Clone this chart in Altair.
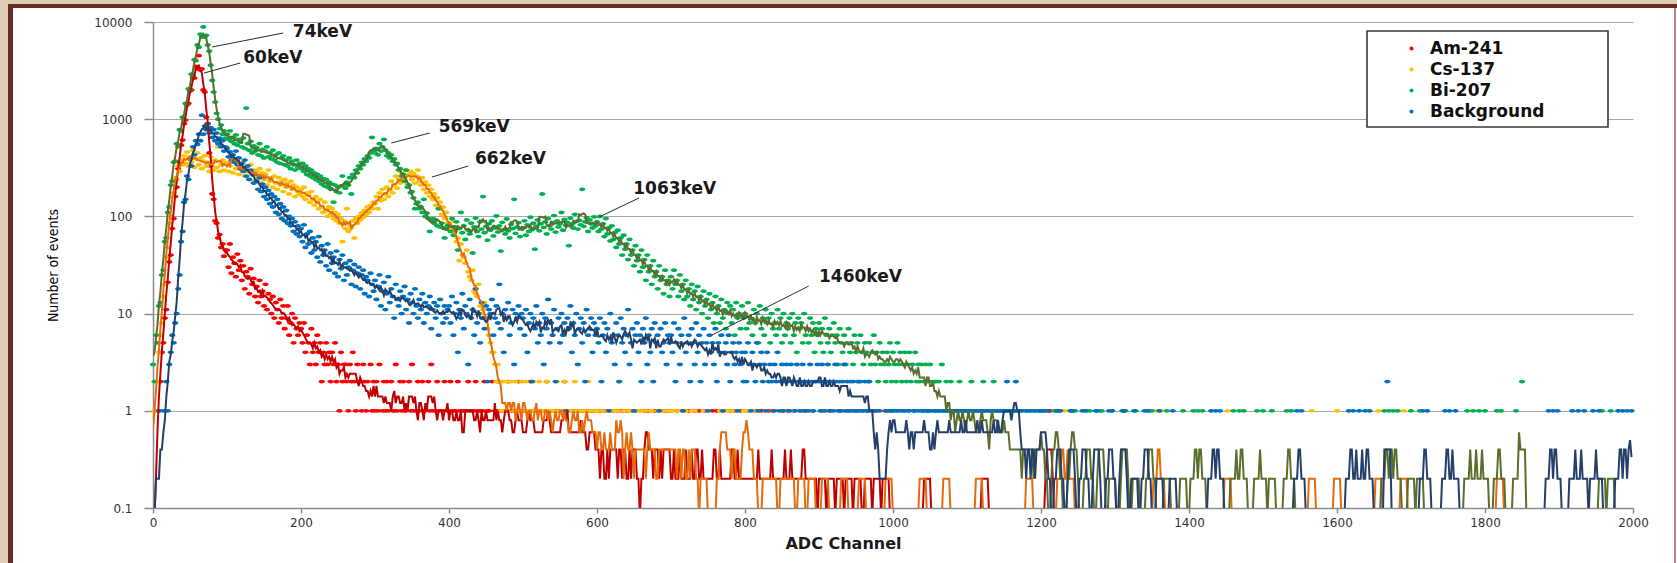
import altair as alt
import pandas as pd

# ---------------------------------------------------------------------------
# Spectra: counts per ADC channel, tabulated every STEP channels.
# Each block holds 50 entries = 100 channels (block 0 -> ch 0..98, ...).
# ---------------------------------------------------------------------------
STEP = 2
BLOCK = 50
N_CH = 2000

SERIES = ["Am-241", "Cs-137", "Bi-207", "Background"]
DOT_COLORS = ["#ff0000", "#ffc000", "#00b050", "#0070c0"]
LINE_COLORS = ["#c00000", "#e46c0a", "#5b6e2c", "#24406a"]

am_blocks = [
    [0, 0, 0, 0, 1, 2, 4, 5, 9, 11, 21, 34, 40, 75, 95, 160, 200, 310, 360, 540, 610, 900, 980, 1400, 1450,
     1950, 2000, 2700, 2650, 3500, 3300, 4500, 3200, 3300, 2000, 1900, 1050, 900, 450, 330, 170, 150, 90, 85, 60, 65, 48, 52, 39, 45],
    [45, 30, 52, 26, 38, 33, 24, 41, 28, 35, 22, 31, 18, 27, 24, 16, 29, 20, 23, 15, 19, 13, 22, 15, 17,
     12, 20, 11, 16, 14, 10, 15, 9, 13, 11, 8, 14, 9, 12, 7, 9, 12, 6, 8, 10, 5, 9, 7, 6, 8],
    [7, 5, 8, 4, 6, 5, 3, 7, 4, 5, 3, 6, 4, 5, 2, 4, 3, 5, 3, 4, 2, 4, 3, 5, 2,
     3, 1, 4, 2, 3, 3, 2, 1, 3, 2, 4, 2, 1, 3, 2, 2, 1, 3, 2, 1, 2, 0, 3, 1, 2],
    [1, 2, 1, 3, 0, 1, 2, 1, 2, 1, 0, 2, 1, 1, 3, 1, 0, 2, 1, 2, 1, 1, 0, 2, 1,
     3, 1, 0, 1, 2, 1, 0, 2, 1, 1, 0, 2, 1, 3, 1, 0, 1, 2, 1, 0, 1, 1, 2, 0, 1],
    [1, 2, 0, 1, 1, 0, 2, 1, 0, 1, 1, 0, 1, 2, 1, 1, 0, 1, 2, 0, 1, 1, 0, 1, 2,
     0, 1, 1, 0, 2, 0, 1, 1, 2, 0, 1, 0, 1, 1, 1, 2, 0, 1, 0, 1, 1, 0, 2, 1, 0],
    [1, 0, 1, 1, 0, 2, 1, 0, 1, 0, 1, 1, 0, 1, 0, 1, 2, 0, 1, 1, 0, 1, 0, 1, 1,
     0, 1, 0, 2, 1, 1, 0, 1, 0, 1, 1, 0, 1, 0, 1, 1, 1, 0, 0, 1, 0, 1, 1, 0, 1],
    [0, 0, 1, 0, 0, 1, 0, 0, 0, 1, 0, 1, 0, 0, 1, 0, 0, 1, 0, 0, 1, 0, 0, 0, 1,
     0, 1, 0, 0, 0, 0, 0, 1, 0, 1, 1, 0, 0, 0, 1, 0, 1, 0, 0, 0, 1, 0, 1, 0, 0],
    [1, 0, 0, 0, 1, 0, 0, 0, 1, 0, 0, 0, 1, 0, 0, 0, 1, 0, 0, 1, 0, 0, 0, 1, 0,
     0, 0, 0, 1, 0, 0, 1, 0, 0, 0, 1, 0, 0, 0, 0, 1, 0, 0, 1, 0, 0, 0, 1, 0, 0],
    [0, 0, 1, 0, 0, 0, 0, 1, 0, 0, 0, 1, 0, 0, 0, 0, 1, 0, 0, 0, 1, 0, 0, 0, 0,
     1, 0, 0, 0, 1, 0, 0, 0, 1, 0, 0, 0, 0, 1, 0, 0, 1, 0, 0, 0, 0, 1, 0, 0, 0],
    [0, 0, 1, 0, 0, 0, 0, 0, 1, 0, 0, 0, 0, 0, 1, 0, 0, 0, 0, 0, 1, 0, 0, 0, 0,
     0, 1, 0, 0, 0, 0, 0, 0, 1, 0, 0, 0, 0, 0, 1, 0, 0, 0, 0, 0, 1, 0, 0, 0, 0],
]
am_tail = [1046, 1124, 1210, 1212]

cs_blocks = [
    [0, 1, 1, 2, 4, 6, 8, 15, 20, 38, 48, 85, 100, 160, 175, 250, 240, 330, 290, 380, 340, 420, 350, 460, 330,
     410, 360, 480, 320, 390, 450, 340, 400, 310, 370, 420, 330, 360, 290, 410, 350, 300, 380, 320, 520, 290, 340, 380, 300, 350],
    [360, 290, 330, 400, 280, 650, 310, 350, 270, 330, 300, 360, 260, 320, 290, 240, 340, 270, 300, 230, 290, 250, 310, 220, 280,
     240, 270, 210, 300, 230, 250, 200, 260, 220, 190, 250, 210, 230, 180, 240, 200, 220, 170, 230, 190, 210, 160, 200, 180, 170],
    [190, 160, 200, 150, 175, 165, 140, 180, 150, 130, 160, 140, 120, 150, 125, 110, 140, 115, 100, 125, 105, 120, 95, 110, 90,
     105, 85, 95, 55, 90, 75, 120, 70, 82, 76, 90, 60, 95, 85, 100, 92, 108, 98, 115, 105, 125, 110, 130, 120, 140],
    [135, 160, 120, 175, 145, 190, 150, 170, 200, 160, 185, 230, 175, 210, 260, 195, 240, 220, 280, 230, 250, 300, 215, 265, 290,
     240, 275, 220, 260, 300, 230, 210, 250, 190, 225, 175, 210, 160, 190, 150, 170, 130, 155, 120, 140, 105, 125, 95, 110, 85],
    [85, 75, 78, 90, 70, 55, 60, 35, 52, 40, 38, 33, 45, 27, 24, 22, 28, 17, 16, 15, 20, 12, 10, 11, 13,
     9, 7, 6, 5, 4, 4, 3, 2, 3, 2, 1, 2, 1, 0, 2, 1, 1, 2, 0, 1, 2, 1, 0, 1, 2],
    [1, 0, 2, 1, 1, 0, 1, 2, 0, 1, 1, 2, 0, 1, 1, 0, 2, 1, 1, 0, 1, 1, 0, 2, 1,
     0, 1, 1, 2, 0, 1, 0, 1, 1, 0, 2, 1, 0, 1, 1, 0, 1, 1, 0, 2, 1, 0, 1, 0, 1],
    [1, 0, 0, 1, 1, 0, 0, 1, 0, 1, 0, 1, 0, 0, 1, 2, 0, 0, 1, 0, 0, 1, 1, 0, 0,
     1, 0, 0, 1, 0, 1, 0, 0, 1, 0, 0, 1, 1, 0, 0, 0, 1, 0, 0, 1, 0, 1, 0, 0, 1],
    [0, 1, 0, 0, 1, 0, 0, 1, 0, 0, 1, 0, 0, 0, 1, 0, 1, 0, 0, 0, 0, 0, 1, 0, 0,
     0, 0, 0, 0, 0, 0, 0, 0, 1, 0, 1, 1, 0, 1, 0, 0, 1, 0, 0, 1, 0, 0, 0, 0, 1],
    [1, 1, 0, 1, 0, 0, 1, 0, 0, 0, 0, 0, 0, 0, 1, 0, 0, 0, 0, 1, 0, 0, 0, 0, 0,
     0, 1, 0, 0, 0, 0, 1, 0, 0, 0, 0, 0, 0, 1, 0, 0, 0, 0, 0, 0, 1, 0, 0, 0, 0],
    [0, 0, 0, 0, 1, 0, 0, 0, 0, 0, 0, 0, 0, 0, 0, 0, 0, 1, 0, 0, 0, 0, 0, 0, 0,
     0, 0, 0, 0, 1, 0, 0, 0, 0, 0, 0, 0, 0, 0, 0, 0, 0, 0, 0, 0, 0, 0, 1, 0, 0],
]
cs_tail = [1040, 1072, 1116, 1184, 1226, 1232, 1240, 1356, 1362, 1452, 1566, 1600, 1656, 1690, 1820]

bi_blocks = [
    [3, 2, 6, 5, 12, 13, 25, 28, 55, 60, 110, 125, 210, 230, 360, 370, 560, 520, 780, 760, 1050, 1000, 1450, 1400, 2050,
     2000, 2900, 2800, 4100, 4000, 5800, 5500, 7500, 7000, 8900, 7000, 7300, 5800, 5000, 3600, 2500, 1900, 1500, 1150, 1000, 800, 870, 700, 760, 640],
    [700, 620, 760, 590, 650, 560, 690, 540, 620, 580, 520, 640, 500, 1300, 560, 480, 590, 450, 530, 470, 510, 430, 560, 420, 490,
     400, 470, 520, 410, 450, 390, 480, 380, 430, 360, 450, 350, 400, 420, 340, 380, 330, 400, 310, 370, 340, 300, 380, 320, 350],
    [310, 350, 290, 330, 270, 310, 260, 300, 250, 280, 240, 270, 230, 260, 215, 245, 205, 240, 200, 225, 190, 215, 140, 210, 180,
     200, 175, 205, 260, 210, 195, 225, 210, 250, 170, 270, 250, 300, 280, 330, 310, 360, 340, 390, 370, 420, 400, 450, 650, 470],
    [450, 500, 430, 560, 470, 520, 620, 480, 420, 450, 400, 430, 370, 390, 340, 350, 300, 310, 260, 270, 230, 300, 200, 210, 175,
     180, 155, 120, 135, 140, 120, 125, 110, 150, 100, 108, 95, 70, 90, 95, 85, 92, 80, 120, 78, 85, 76, 60, 74, 80],
    [82, 70, 95, 64, 78, 88, 45, 75, 110, 68, 80, 58, 92, 72, 66, 85, 42, 78, 96, 70, 62, 88, 74, 160, 68,
     79, 57, 84, 72, 90, 63, 76, 101, 69, 80, 44, 87, 73, 66, 94, 71, 60, 83, 75, 150, 67, 78, 86, 62, 74],
    [76, 90, 64, 82, 70, 98, 73, 85, 46, 79, 92, 71, 84, 170, 77, 88, 66, 95, 80, 74, 86, 102, 69, 90, 78,
     84, 110, 72, 93, 81, 87, 50, 96, 83, 76, 105, 89, 74, 91, 82, 190, 79, 88, 97, 70, 92, 84, 76, 99, 80],
    [88, 70, 100, 74, 84, 62, 95, 66, 76, 56, 80, 58, 68, 48, 72, 52, 60, 40, 64, 46, 52, 36, 58, 40, 45,
     31, 50, 35, 40, 27, 45, 30, 36, 22, 40, 27, 31, 20, 35, 24, 27, 18, 31, 22, 24, 16, 28, 20, 22, 15],
    [24, 18, 28, 20, 22, 15, 25, 17, 20, 14, 22, 15, 18, 12, 20, 14, 17, 11, 19, 13, 15, 10, 17, 12, 14,
     9, 16, 11, 13, 8, 15, 10, 12, 8, 14, 9, 11, 7, 13, 10, 12, 8, 11, 6, 13, 9, 10, 7, 12, 9],
    [10, 7, 13, 8, 9, 6, 11, 8, 10, 5, 12, 7, 9, 6, 11, 8, 9, 5, 10, 7, 8, 6, 11, 7, 9,
     5, 10, 6, 8, 7, 9, 5, 10, 6, 8, 4, 9, 7, 8, 5, 10, 6, 7, 5, 9, 6, 8, 4, 7, 6],
    [8, 5, 7, 4, 9, 6, 5, 7, 4, 6, 8, 5, 6, 3, 7, 5, 4, 6, 3, 5, 7, 4, 5, 3, 6,
     4, 5, 2, 6, 4, 3, 5, 4, 2, 5, 3, 4, 6, 3, 4, 2, 5, 3, 4, 3, 2, 4, 3, 5, 2],
    [4, 3, 2, 5, 3, 4, 2, 3, 4, 2, 3, 4, 2, 3, 1, 4, 2, 3, 2, 3, 1, 2, 3, 2, 1,
     3, 2, 1, 2, 2, 1, 2, 0, 3, 1, 1, 2, 0, 1, 2, 1, 0, 1, 1, 0, 2, 1, 0, 1, 1],
    [1, 0, 1, 2, 0, 1, 1, 0, 1, 0, 1, 2, 1, 0, 0, 1, 1, 0, 2, 1, 0, 1, 0, 1, 1,
     0, 1, 1, 0, 1, 0, 0, 1, 0, 1, 0, 0, 1, 0, 0, 1, 0, 1, 0, 0, 1, 0, 0, 1, 0],
    [1, 0, 1, 0, 0, 0, 0, 0, 0, 1, 1, 0, 1, 0, 0, 0, 0, 0, 0, 0, 1, 0, 1, 1, 0,
     0, 0, 0, 0, 0, 0, 1, 0, 1, 0, 0, 0, 0, 0, 0, 1, 1, 0, 0, 0, 0, 0, 0, 1, 0],
    [0, 0, 0, 0, 0, 0, 1, 1, 0, 0, 0, 0, 0, 0, 1, 0, 0, 0, 0, 0, 0, 0, 0, 1, 0,
     1, 0, 0, 0, 0, 0, 0, 0, 0, 0, 1, 0, 0, 0, 0, 0, 0, 0, 0, 0, 0, 1, 0, 0, 0],
]
bi_tail = [1406, 1412, 1418, 1460, 1468, 1474, 1492, 1500, 1512, 1532, 1538, 1664, 1670, 1676, 1682,
           1700, 1712, 1776, 1784, 1792, 1800, 1816, 1822, 1842, 1850, 1850, 1958, 1970]

bg_blocks = [
    [0, 0, 0, 0, 1, 0, 0, 1, 0, 2, 1, 3, 4, 6, 5, 8, 10, 18, 25, 55, 70, 140, 150, 260, 240,
     390, 330, 520, 430, 600, 550, 700, 600, 1100, 700, 850, 780, 900, 720, 820, 650, 780, 600, 720, 560, 640, 520, 600, 470, 520],
    [500, 410, 460, 380, 430, 360, 470, 340, 400, 310, 350, 290, 380, 260, 330, 240, 300, 280, 220, 270, 230, 190, 250, 180, 215,
     160, 200, 150, 185, 135, 170, 125, 160, 110, 150, 105, 135, 95, 125, 90, 115, 85, 100, 80, 95, 70, 88, 66, 80, 62],
    [75, 55, 82, 48, 66, 52, 70, 42, 60, 45, 55, 38, 62, 34, 50, 40, 45, 31, 52, 28, 42, 33, 38, 26, 44,
     24, 36, 29, 40, 22, 33, 25, 30, 35, 20, 28, 32, 19, 26, 30, 18, 25, 28, 16, 24, 22, 15, 26, 20, 17],
    [22, 14, 19, 25, 12, 17, 21, 11, 16, 24, 13, 18, 15, 9, 20, 14, 12, 17, 10, 15, 19, 11, 14, 8, 16,
     13, 10, 18, 12, 9, 14, 11, 16, 8, 13, 10, 12, 15, 7, 11, 13, 9, 12, 6, 14, 10, 8, 12, 9, 11],
    [12, 8, 15, 6, 10, 13, 4, 11, 9, 16, 7, 12, 10, 3, 14, 9, 11, 6, 18, 8, 10, 5, 13, 9, 7,
     12, 2, 11, 10, 14, 6, 9, 12, 8, 20, 7, 10, 4, 11, 9, 13, 6, 8, 11, 3, 10, 9, 12, 7, 10],
    [9, 6, 11, 4, 8, 10, 2, 9, 7, 12, 5, 8, 6, 10, 3, 9, 7, 14, 5, 8, 6, 11, 2, 7, 9,
     5, 10, 6, 8, 1, 9, 7, 12, 4, 8, 6, 10, 3, 7, 9, 5, 8, 2, 11, 6, 7, 9, 4, 8, 6],
    [7, 5, 9, 2, 6, 8, 4, 7, 1, 10, 5, 6, 3, 8, 6, 2, 9, 5, 7, 4, 6, 11, 3, 5, 7,
     1, 6, 8, 4, 6, 2, 7, 5, 9, 3, 6, 4, 7, 2, 8, 5, 6, 1, 7, 4, 5, 8, 3, 6, 5],
    [6, 4, 8, 2, 5, 7, 3, 6, 1, 9, 4, 5, 6, 2, 7, 5, 3, 8, 4, 6, 2, 5, 7, 3, 5,
     1, 6, 4, 5, 3, 7, 2, 5, 4, 6, 1, 4, 5, 3, 6, 2, 4, 5, 3, 4, 1, 5, 3, 4, 2],
    [4, 2, 5, 3, 1, 4, 3, 2, 5, 1, 3, 4, 2, 3, 1, 4, 2, 3, 2, 1, 3, 2, 4, 1, 2,
     3, 1, 2, 3, 2, 1, 3, 2, 2, 1, 3, 2, 1, 2, 3, 1, 2, 2, 1, 3, 2, 1, 2, 2, 3],
    [2, 1, 3, 2, 1, 2, 3, 1, 2, 2, 1, 3, 2, 1, 2, 1, 2, 3, 1, 2, 1, 2, 1, 2, 1,
     1, 2, 1, 2, 1, 1, 2, 1, 1, 2, 1, 0, 1, 1, 0, 0, 1, 0, 0, 0, 0, 1, 0, 1, 1],
    [1, 0, 1, 1, 0, 1, 0, 1, 1, 0, 1, 1, 0, 0, 1, 1, 0, 1, 0, 1, 1, 0, 1, 1, 0,
     1, 0, 0, 1, 1, 0, 1, 1, 0, 1, 0, 1, 1, 0, 1, 1, 0, 1, 0, 1, 1, 0, 1, 1, 0],
    [1, 1, 0, 1, 0, 1, 1, 0, 1, 1, 0, 1, 1, 0, 1, 0, 1, 1, 0, 1, 1, 0, 1, 1, 0,
     1, 1, 2, 1, 0, 1, 1, 1, 2, 1, 1, 0, 1, 0, 0, 1, 0, 0, 1, 0, 0, 1, 0, 0, 1],
    [0, 1, 1, 0, 1, 0, 0, 0, 0, 0, 0, 1, 0, 1, 0, 0, 0, 0, 0, 0, 1, 1, 0, 0, 0,
     0, 0, 0, 1, 0, 1, 0, 0, 0, 0, 0, 0, 1, 1, 0, 0, 0, 0, 0, 0, 0, 1, 0, 1, 0],
    [0, 0, 0, 0, 0, 1, 1, 0, 0, 0, 0, 0, 0, 1, 0, 0, 0, 0, 0, 0, 1, 0, 1, 0, 0,
     0, 0, 0, 0, 0, 1, 0, 0, 0, 0, 0, 0, 0, 0, 1, 0, 0, 0, 0, 0, 0, 0, 0, 0, 0],
]
bg_tail = [1430, 1436, 1442, 1546, 1552, 1616, 1622, 1630, 1638, 1644, 1668, 1668, 1716, 1722, 1746,
           1752, 1760, 1886, 1892, 1898, 1918, 1926, 1934, 1946, 1954, 1980, 1986, 1992, 1998]

# Peak annotations: label position and leader line (channel, counts)
peak_labels = ["74keV", "60keV", "569keV", "662keV", "1063keV", "1460keV"]
label_ch = [189, 122, 386, 435, 649, 900]
label_val = [7890, 4265, 832, 390, 191, 23.8]
leader_ch0 = [80, 69, 322, 377, 603, 755]
leader_val0 = [5530, 2985, 569, 254, 98.6, 6.0]
leader_ch1 = [176, 118, 374, 426, 657, 886]
leader_val1 = [7710, 3785, 721, 330, 155, 19.2]

x_ticks = list(range(0, 2001, 200))
y_ticks = [0.1, 1, 10, 100, 1000, 10000]


def expand(blocks, tail):
    """Full per-channel count table (every STEP channels) from blocks + isolated events."""
    full = [0] * (N_CH // STEP)
    for b, block in enumerate(blocks):
        for j, c in enumerate(block[:BLOCK]):
            full[b * BLOCK + j] = c
    for ch in tail:
        full[ch // STEP] += 1
    return full


frames = []
for name, blocks, tail in zip(SERIES, [am_blocks, cs_blocks, bi_blocks, bg_blocks],
                              [am_tail, cs_tail, bi_tail, bg_tail]):
    counts = expand(blocks, tail)
    frames.append(pd.DataFrame({"series": name,
                                "ch": [i * STEP for i in range(len(counts))],
                                "count": counts}))
spectra = pd.concat(frames, ignore_index=True)

labels_df = pd.DataFrame({"label": peak_labels, "ch": label_ch, "val": label_val})
leaders_df = pd.DataFrame({"ch0": leader_ch0, "v0": leader_val0, "ch1": leader_ch1, "v1": leader_val1})

x_scale = alt.Scale(domain=[0, 2000], nice=False, zero=False)
y_scale = alt.Scale(type="log", domain=[0.1, 10000], nice=False)

x_axis = alt.Axis(values=x_ticks, format="d", title="ADC Channel", grid=False,
                  labelFlush=False, labelOverlap=False, tickSize=5, labelPadding=4,
                  titleX=690, titleY=35, titleAlign="center", titleBaseline="middle",
                  titleFont="DejaVu Sans", titleFontSize=16, titleFontWeight="bold",
                  titleColor="#1a1a1a")
y_axis = alt.Axis(values=y_ticks, format="~g", title="Number of events", grid=True,
                  labelOverlap=False, tickSize=9, labelPadding=12,
                  titleAngle=270, titleX=-100, titleY=243, titleAlign="center",
                  titleBaseline="middle",
                  titleFont="Liberation Sans Narrow, DejaVu Sans Condensed, sans-serif",
                  titleFontSize=14, titleFontWeight="normal", titleColor="#000000")

# small horizontally elongated dots
DOT_SHAPE = "M-1,0A1,0.6,0,1,0,1,0A1,0.6,0,1,0,-1,0Z"

dots = alt.Chart(spectra).transform_filter("datum.count > 0").mark_point(
    shape=DOT_SHAPE, filled=True, size=40, opacity=1, strokeWidth=0
).encode(
    x=alt.X("ch:Q", scale=x_scale, axis=x_axis),
    y=alt.Y("count:Q", scale=y_scale, axis=y_axis),
    color=alt.Color("series:N", scale=alt.Scale(domain=SERIES, range=DOT_COLORS),
                    legend=alt.Legend(title=None, orient="none", legendX=1250, legendY=18,
                                      padding=0, labelFont="DejaVu Sans", labelFontSize=17,
                                      labelFontWeight="bold", labelColor="#111111",
                                      symbolType="circle", symbolSize=16, symbolStrokeWidth=0,
                                      labelOffset=10, rowPadding=3, labelLimit=300)),
)

# moving-average trend line through each spectrum
trend = alt.Chart(spectra).transform_window(
    ma="mean(count)", frame=[-2, 2], groupby=["series"], sort=[alt.SortField("ch", order="ascending")]
).transform_calculate(
    ma_plot="max(datum.ma, 0.08)"
).mark_line(strokeWidth=2, clip=True).encode(
    x=alt.X("ch:Q", scale=x_scale, axis=x_axis),
    y=alt.Y("ma_plot:Q", scale=y_scale, axis=y_axis),
    stroke=alt.Stroke("series:N", scale=alt.Scale(domain=SERIES, range=LINE_COLORS), legend=None),
)

leaders = alt.Chart(leaders_df).mark_rule(color="#2b2b2b", strokeWidth=1).encode(
    x=alt.X("ch0:Q", scale=x_scale, axis=x_axis),
    y=alt.Y("v0:Q", scale=y_scale, axis=y_axis),
    x2="ch1:Q",
    y2="v1:Q",
)

peak_text = alt.Chart(labels_df).mark_text(
    align="left", baseline="middle", font="DejaVu Sans", fontWeight="bold",
    fontSize=17, color="#1a1a1a"
).encode(
    x=alt.X("ch:Q", scale=x_scale, axis=x_axis),
    y=alt.Y("val:Q", scale=y_scale, axis=y_axis),
    text="label:N",
)

one = pd.DataFrame({"k": [0]})


def band(x0, x1, y0, y1, color):
    return alt.Chart(one).mark_rect(color=color).encode(
        x=alt.value(x0), x2=alt.value(x1), y=alt.value(y0), y2=alt.value(y1)
    )


# page frame around the white chart card
frame = [
    band(-153, -145, -22, 541, "#dccfb6"),
    band(-153, 1524, -22, -18, "#dccfb6"),
    band(-145, -140, -18, 541, "#6c2a27"),
    band(-145, 1524, -18, -14, "#6c2a27"),
    band(1521, 1523, -14, 541, "#b98585"),
]

legend_box = alt.Chart(one).mark_rect(fill="white", stroke="#3a3a3a", strokeWidth=1.6).encode(
    x=alt.value(1214), x2=alt.value(1455), y=alt.value(9), y2=alt.value(105)
)

chart = alt.layer(dots, trend, leaders, peak_text, *frame, legend_box).properties(
    width=1480,
    height=486,
    autosize=alt.AutoSizeParams(type="none"),
    padding={"left": 153, "top": 22, "right": 44, "bottom": 55},
    background="white",
).configure_view(stroke=None).configure_axis(
    domainColor="#8c8c8c", domainWidth=1.5, tickColor="#8c8c8c", tickWidth=1.5,
    gridColor="#a8a8a8", gridWidth=1.2, labelFont="DejaVu Sans", labelFontSize=12,
    labelColor="#333333",
)

chart.save("out.html", embed_options={"renderer": "svg", "actions": False})
